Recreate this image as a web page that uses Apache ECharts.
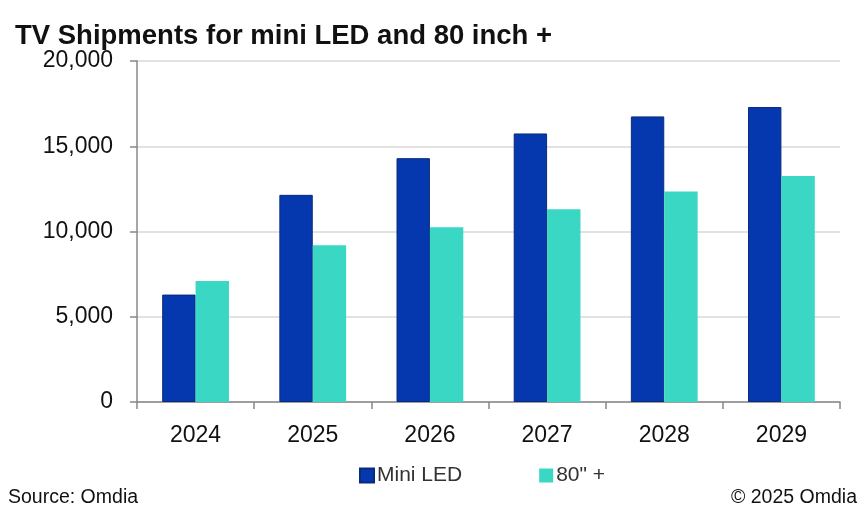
<!DOCTYPE html>
<html>
<head>
<meta charset="utf-8">
<script src="https://cdn.jsdelivr.net/npm/echarts@6/dist/echarts.min.js"></script>
<style>
html,body{margin:0;padding:0;background:#fff;}
#chart{width:865px;height:511px;}
</style>
</head>
<body>
<div id="chart"></div>
<script>
const categories = ['2024', '2025', '2026', '2027', '2028', '2029'];
const miniLED = [6300, 12150, 14300, 15750, 16750, 17300];
const inch80 = [7100, 9200, 10250, 11300, 12350, 13250];
const seriesNames = ['Mini LED', '80" +'];
const titleText = 'TV Shipments for mini LED and 80 inch +';
const sourceText = 'Source: Omdia';
const copyrightText = '\u00A9 2025 Omdia';

const chart = echarts.init(document.getElementById('chart'));
const font = 'Liberation Sans';
chart.setOption({
  animation: false,
  backgroundColor: '#ffffff',
  title: {
    text: titleText,
    left: 10, top: 17,
    textStyle: { fontFamily: font, fontWeight: 'bold', fontSize: 27.5, color: '#111' }
  },
  legend: {
    data: seriesNames,
    top: 460, left: 354,
    itemWidth: 14, itemHeight: 14, itemGap: 77,
    icon: 'rect',
    textStyle: { fontFamily: font, fontSize: 21, color: '#333', padding: [0, 0, 0, -2] }
  },
  grid: { left: 137, right: 25, top: 61, bottom: 109 },
  xAxis: {
    type: 'category',
    data: categories,
    axisLine: { lineStyle: { color: '#888', width: 1.5 } },
    axisTick: { show: true, length: 7, lineStyle: { color: '#888', width: 1.5 } },
    axisLabel: { fontFamily: font, fontSize: 23, color: '#111', margin: 22 }
  },
  yAxis: {
    type: 'value',
    min: 0, max: 20000, interval: 5000,
    axisLine: { show: true, lineStyle: { color: '#888', width: 1.5 } },
    axisTick: { show: true, length: 7, lineStyle: { color: '#888', width: 1.5 } },
    splitLine: { lineStyle: { color: '#e2e2e2', width: 2 } },
    axisLabel: {
      fontFamily: font, fontSize: 23, color: '#111', margin: 24,
      formatter: v => v.toLocaleString('en-US')
    }
  },
  series: [
    {
      name: seriesNames[0], type: 'bar', data: miniLED,
      barGap: '0%', barCategoryGap: '43%',
      itemStyle: { color: '#0537ae', borderColor: '#0a2a7a', borderWidth: 1 }
    },
    {
      name: seriesNames[1], type: 'bar', data: inch80,
      itemStyle: { color: '#3bd7c5' }
    }
  ],
  graphic: [
    { type: 'text', left: 8, top: 488, style: { text: sourceText, fontFamily: font, fontSize: 19.5, fill: '#111' } },
    { type: 'text', right: 8, top: 488, style: { text: copyrightText, fontFamily: font, fontSize: 19.5, fill: '#111' } }
  ]
});
</script>
</body>
</html>
